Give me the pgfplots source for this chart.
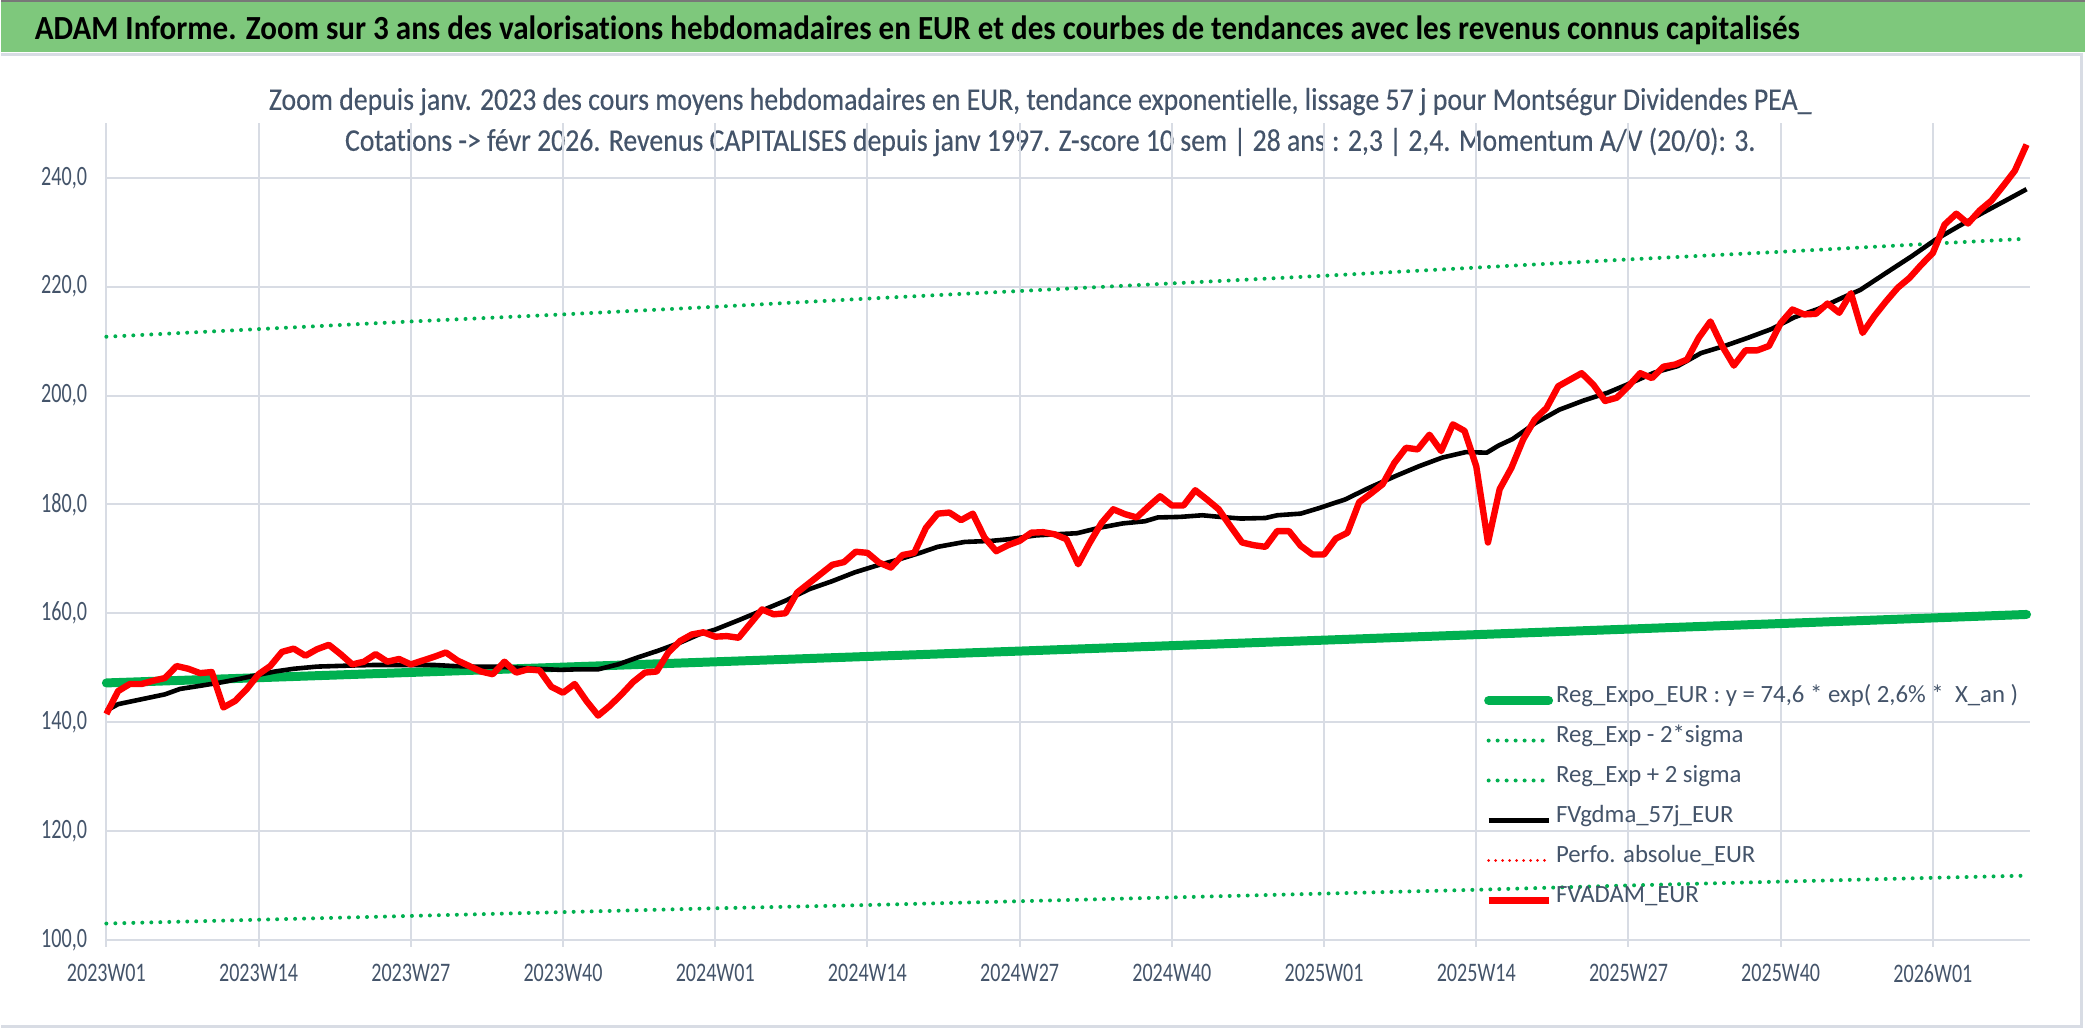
\documentclass[border=0pt]{standalone}
\usepackage{fontspec}
\usepackage{pgfplots}
\pgfplotsset{compat=1.18}
\setmainfont[Ligatures=NoCommon]{Carlito}
\newfontfamily\titlefont[FakeStretch=0.92,Ligatures=NoCommon]{Carlito}
\newfontfamily\subfont[FakeStretch=0.88,FakeBold=0.3,Ligatures=NoCommon]{Carlito}
\newfontfamily\yfont[FakeStretch=0.72,Ligatures=NoCommon]{Carlito}
\newfontfamily\xfont[FakeStretch=0.75,Ligatures=NoCommon]{Carlito}
\newfontfamily\legfont[Ligatures=NoCommon]{Carlito}
\definecolor{titlegreen}{RGB}{126,200,124}
\definecolor{textcol}{RGB}{68,84,106}
\definecolor{gridgray}{RGB}{216,220,228}
\definecolor{xlgreen}{RGB}{0,176,80}
\definecolor{frame}{RGB}{120,120,120}

\pgfplotstableread{
i v
0 141.5
1 145.7
2 147.0
3 147.0
4 147.6
5 148.1
6 150.3
7 149.8
8 149.0
9 149.2
10 142.7
11 143.9
12 146.1
13 148.8
14 150.3
15 152.9
16 153.5
17 152.2
18 153.4
19 154.2
20 152.5
21 150.6
22 151.1
23 152.5
24 151.1
25 151.6
26 150.6
27 151.3
28 152.0
29 152.8
30 151.3
31 150.3
32 149.3
33 148.8
34 151.1
35 149.1
36 149.7
37 149.5
38 146.5
39 145.4
40 147.0
41 143.9
42 141.2
43 143.0
44 145.1
45 147.4
46 149.1
47 149.3
48 152.8
49 154.9
50 156.1
51 156.5
52 155.7
53 155.8
54 155.5
55 158.1
56 160.7
57 159.8
58 160.0
59 163.8
60 165.5
61 167.2
62 168.9
63 169.4
64 171.3
65 171.1
66 169.3
67 168.4
68 170.7
69 171.1
70 175.7
71 178.3
72 178.5
73 177.1
74 178.3
75 173.9
76 171.4
77 172.5
78 173.3
79 174.8
80 174.9
81 174.5
82 173.6
83 169.0
84 173.0
85 176.6
86 179.1
87 178.2
88 177.6
89 179.6
90 181.5
91 179.8
92 179.8
93 182.6
94 180.9
95 179.1
96 176.0
97 173.0
98 172.5
99 172.2
100 175.1
101 175.1
102 172.4
103 170.8
104 170.8
105 173.7
106 174.8
107 180.4
108 182.0
109 183.7
110 187.6
111 190.4
112 190.1
113 192.8
114 189.8
115 194.7
116 193.5
117 187.0
118 173.0
119 182.8
120 186.7
121 191.9
122 195.6
123 197.7
124 201.7
125 202.9
126 204.1
127 202.0
128 199.0
129 199.6
130 201.7
131 204.1
132 203.2
133 205.3
134 205.7
135 206.6
136 210.6
137 213.6
138 209.1
139 205.5
140 208.3
141 208.3
142 209.1
143 213.3
144 215.8
145 214.9
146 215.0
147 216.9
148 215.2
149 218.8
150 211.5
151 214.6
152 217.3
153 219.8
154 221.6
155 224.0
156 226.2
157 231.4
158 233.4
159 231.6
160 234.0
161 235.8
162 238.5
163 241.3
164 246.1
}\adamdata

\pgfplotstableread{
i v
0 142.1
1 143.3
3 144.2
5 145.1
6.3 146.1
8.1 146.7
9.8 147.3
11.5 148.0
13 148.7
14.4 149.3
16 149.8
18 150.2
19.5 150.3
21 150.4
23 150.5
25 150.5
28 150.5
29.7 150.3
31.5 150.2
33.2 150.2
35 150.0
36.7 149.8
38.8 149.6
40.2 149.7
42 149.7
43.7 150.6
45.4 151.9
47.1 153.1
49 154.6
50.6 156.1
52 157.0
54.2 158.9
56.1 160.6
58.1 162.4
60 164.4
62 165.9
63.9 167.5
65.7 168.7
67.7 169.9
69.5 171.1
71 172.2
73.3 173.1
75.6 173.3
77.1 173.6
79.4 174.3
81 174.5
82.9 174.7
84.8 175.7
86.8 176.5
88.7 176.9
89.8 177.6
91.7 177.7
93.6 178.0
95.1 177.7
96.9 177.4
99 177.5
100 178.0
102 178.3
103.4 179.2
105.8 180.9
107.8 183.0
110.1 185.2
112.1 187.0
114.1 188.6
116.1 189.6
117.9 189.5
118.9 190.8
120.1 192.0
122.1 195.0
124.1 197.4
126.2 199.1
128.2 200.5
130.2 202.3
132.2 204.2
134.2 205.4
136.2 207.8
138.2 209.1
140.2 210.6
142.2 212.2
144.2 214.4
146.2 215.9
148.2 217.9
149.8 219.4
152.2 222.8
154.2 225.6
156.2 228.6
158.2 231.1
160.2 233.5
162.2 235.8
164 237.9
}\gdmadata

\pgfplotstableread{
i reg low high
0 147.20 103.0 210.8
13 148.16 103.7 212.2
26 149.13 104.4 213.6
39 150.10 105.1 214.9
52 151.08 105.8 216.3
65 152.06 106.4 217.8
78 153.05 107.1 219.2
91 154.05 107.8 220.6
104 155.06 108.5 222.0
117 156.07 109.2 223.5
130 157.09 110.0 225.0
143 158.11 110.7 226.4
156 159.14 111.4 227.9
164 159.78 111.8 228.8
}\regdata

\begin{document}
\begin{tikzpicture}[x=1pt,y=1pt]
% page background and frame
\fill[white] (-52.5,-45) rectangle (990.5,470.5);
\fill[titlegreen] (-52.5,444.5) rectangle (990.5,469.5);
\draw[frame, line width=1pt] (-52.5,470) -- (990.5,470);
\draw[gridgray, line width=1.5pt] (-52.5,443.2) -- (988.5,443.2) -- (988.5,-43.2) -- (-52.5,-43.2);
\node[anchor=base west, inner sep=0pt, font={\titlefont\bfseries\fontsize{16.9}{20}\selectfont}, text=black]
  at (-36,450.5) {ADAM Informe. Zoom sur 3 ans des valorisations hebdomadaires en EUR et des courbes de tendances avec les revenus connus capitalisés};
\node[anchor=base, inner sep=0pt, font={\subfont\fontsize{15.8}{18}\selectfont}, text=textcol]
  at (467.5,415.5) {Zoom depuis janv. 2023 des cours moyens hebdomadaires en EUR, tendance exponentielle, lissage 57 j pour Montségur Dividendes PEA\_};
\node[anchor=base, inner sep=0pt, font={\subfont\fontsize{15.8}{18}\selectfont}, text=textcol]
  at (472.5,395) {Cotations -> févr 2026. Revenus CAPITALISES depuis janv 1997. Z-score 10 sem | 28 ans : 2,3 | 2,4. Momentum A/V (20/0): 3.};
\begin{axis}[
  at={(0pt,0pt)}, anchor=south west, scale only axis,
  width=963pt, height=408.75pt,
  xmin=0, xmax=164.3, ymin=100, ymax=250,
  axis line style={draw=none},
  xtick={0,13,26,39,52,65,78,91,104,117,130,143,156},
  xticklabels={2023W01,2023W14,2023W27,2023W40,2024W01,2024W14,2024W27,2024W40,2025W01,2025W14,2025W27,2025W40,2026W01},
  ytick={100,120,140,160,180,200,220,240},
  yticklabels={{100,0},{120,0},{140,0},{160,0},{180,0},{200,0},{220,0},{240,0}},
  grid=major,
  major grid style={gridgray, line width=1pt},
  xtick pos=lower, ytick pos=left,
  tick align=outside,
  xtick style={gridgray, line width=1pt},
  major tick length=3.5pt,
  ytick style={draw=none},
  xticklabel style={font={\xfont\fontsize{13.4}{15}\selectfont}, text=textcol, anchor=north, inner sep=0pt, yshift=-8.5pt},
  yticklabel style={font={\yfont\fontsize{14}{16}\selectfont}, text=textcol, anchor=east, inner sep=0pt, xshift=-6pt},
  legend cell align=left,
  legend style={at={(0.716,0.318)}, anchor=north west, draw=none, fill=none,
    font={\legfont\fontsize{12.4}{14}\selectfont}, text=textcol,
    inner sep=0pt, row sep=0pt,
    nodes={inner ysep=0pt, inner xsep=1.5pt, text height=11pt, text depth=9pt}},
  legend image code/.code={\draw[#1] (0pt,0pt) -- (30pt,0pt);},
  clip=false,
]
\addplot[xlgreen, line width=4.5pt, line cap=round] table[x=i, y=reg] {\regdata};
\addlegendentry{Reg\_Expo\_EUR : y = 74,6 * exp( 2,6\% *\ \ X\_an )}
\addplot[xlgreen, line width=2pt, line cap=round, dash pattern=on 0pt off 4.5pt] table[x=i, y=low] {\regdata};
\addlegendentry{Reg\_Exp - 2*sigma}
\addplot[xlgreen, line width=2pt, line cap=round, dash pattern=on 0pt off 4.5pt] table[x=i, y=high] {\regdata};
\addlegendentry{Reg\_Exp + 2 sigma}
\addplot[black, line width=2.3pt, line join=round] table[x=i, y=v] {\gdmadata};
\addlegendentry{FVgdma\_57j\_EUR}
\addlegendimage{red, line width=1.5pt, line cap=round, dash pattern=on 0pt off 3.5pt}
\addlegendentry{Perfo. absolue\_EUR}
\addplot[red, line width=3.2pt, line join=round] table[x=i, y=v] {\adamdata};
\addlegendentry{FVADAM\_EUR}
\end{axis}
\end{tikzpicture}
\end{document}
